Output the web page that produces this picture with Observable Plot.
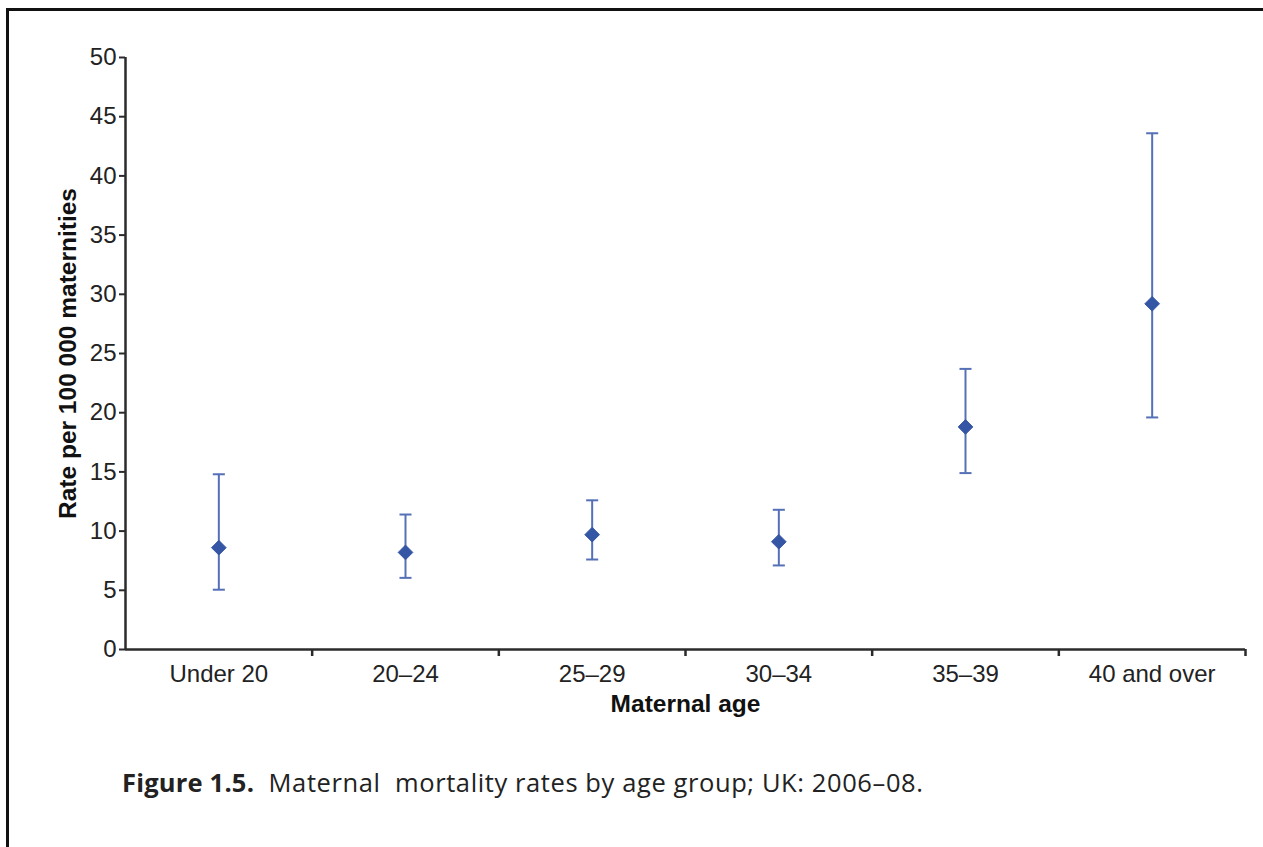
<!DOCTYPE html>
<html>
<head>
<meta charset="utf-8">
<script src="https://cdn.jsdelivr.net/npm/d3@7"></script>
<script src="https://cdn.jsdelivr.net/npm/@observablehq/plot@0.6"></script>
<style>
  html, body { margin: 0; padding: 0; background: #fff; }
  body { width: 1263px; height: 847px; position: relative; overflow: hidden; }
  #frame { position: absolute; left: 6px; top: 8px; right: -10px; bottom: -10px;
           border-left: 3px solid #111; border-top: 3px solid #111; }
  #chart { position: absolute; left: 0; top: 0; }
  #caption { position: absolute; left: 122px; top: 765px; font-family: "Open Sans", sans-serif;
             font-size: 25.5px; color: #222; letter-spacing: 0.6px; white-space: nowrap; }
  #caption b { font-weight: 700; letter-spacing: 0.2px; }
</style>
</head>
<body>
<div id="frame"></div>
<div id="chart"></div>
<div id="caption"><b>Figure 1.5.</b>&nbsp; Maternal&nbsp; mortality rates by age group; UK: 2006–08.</div>
<script>
// Maternal mortality rate per 100 000 maternities, with 95% confidence limits
const ageGroups = ["Under 20", "20–24", "25–29", "30–34", "35–39", "40 and over"];
const rates     = [8.6, 8.2, 9.7, 9.1, 18.8, 29.2];
const lowerCI   = [5.05, 6.05, 7.6, 7.1, 14.9, 19.6];
const upperCI   = [14.8, 11.4, 12.6, 11.8, 23.7, 43.6];
const yTicks    = [0, 5, 10, 15, 20, 25, 30, 35, 40, 45, 50];

const rows = ageGroups.map((g, i) => ({
  group: g, pos: i + 0.5, rate: rates[i], lo: lowerCI[i], hi: upperCI[i]
}));
const centres = rows.map(d => d.pos);
const boundaries = d3.range(1, ageGroups.length + 1);

// horizontal cap drawn as a symbol so its width stays in pixels
const capSymbol = {
  draw(context, size) {
    const w = Math.sqrt(size);
    context.moveTo(-w / 2, 0);
    context.lineTo(w / 2, 0);
  }
};

const barColor = "#5570b6";
const markColor = "#3556a5";
const axisColor = "#2b2b2b";

const chart = Plot.plot({
  width: 1263,
  height: 730,
  marginLeft: 125,
  marginRight: 18,
  marginTop: 57,
  marginBottom: 81,
  style: { fontFamily: "'Liberation Sans', Arial, sans-serif", fontSize: "24px", color: "#222", background: "transparent" },
  x: { domain: [0, ageGroups.length] },
  y: { domain: [0, 50] },
  marks: [
    // y axis ticks and labels
    Plot.axisY({ ticks: yTicks, tickSize: 6, tickPadding: 3, strokeWidth: 2, stroke: axisColor, fontSize: 24, label: null }),
    // x axis: boundary ticks between groups
    Plot.axisX({ ticks: boundaries, tickSize: 7, strokeWidth: 2.5, stroke: axisColor, tickFormat: () => "", label: null }),
    // x axis: group labels at band centres
    Plot.axisX({ ticks: centres, tickSize: 0, tickPadding: 15, fontSize: 24, tickFormat: v => ageGroups[Math.floor(v)], label: null }),
    // axis lines
    Plot.ruleX([0], { stroke: axisColor, strokeWidth: 2.5 }),
    Plot.ruleY([0], { stroke: axisColor, strokeWidth: 2.5 }),
    // axis titles
    Plot.text(["Rate per 100 000 maternities"], {
      frameAnchor: "left", textAnchor: "middle", rotate: -90, dx: -57,
      fontWeight: "bold", fontSize: 24.5, fill: "#111"
    }),
    Plot.text(["Maternal age"], {
      frameAnchor: "bottom", dy: 62, fontWeight: "bold", fontSize: 24.5, fill: "#111"
    }),
    // confidence interval bars
    Plot.ruleX(rows, { x: "pos", y1: "lo", y2: "hi", stroke: barColor, strokeWidth: 2 }),
    Plot.dot(rows, { x: "pos", y: "hi", symbol: capSymbol, r: 6.8, stroke: barColor, strokeWidth: 2, fill: "none" }),
    Plot.dot(rows, { x: "pos", y: "lo", symbol: capSymbol, r: 6.8, stroke: barColor, strokeWidth: 2, fill: "none" }),
    // point estimates
    Plot.dot(rows, { x: "pos", y: "rate", symbol: "diamond2", r: 6.6, fill: markColor, stroke: markColor, strokeWidth: 1 })
  ]
});
document.getElementById("chart").appendChild(chart);
</script>
</body>
</html>
